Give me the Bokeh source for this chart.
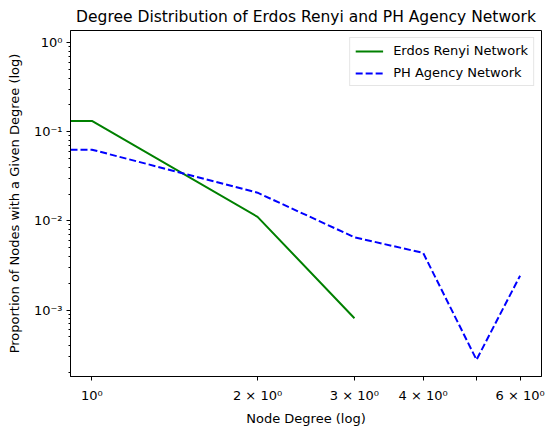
import math
from bokeh.plotting import figure
from bokeh.models import Range1d, FixedTicker, Legend, LegendItem
from bokeh.embed import file_html
from bokeh.resources import INLINE

# ---- data ----
degrees_er = [1, 2, 3]
prop_er = [0.132, 0.0111, 0.00081]
degrees_ph = [1, 2, 3, 4, 5, 6]
prop_ph = [0.0629, 0.0207, 0.00655, 0.00437, 0.000277, 0.00243]

series_names = ["Erdos Renyi Network", "PH Agency Network"]

x_tick_values = [1, 2, 3, 4, 5, 6]
x_tick_labels = ["10\u2070", "2 \u00d7 10\u2070", "3 \u00d7 10\u2070", "4 \u00d7 10\u2070", "", "6 \u00d7 10\u2070"]
y_tick_values = [0.001, 0.01, 0.1, 1.0]
y_tick_labels = ["10\u207b\u00b3", "10\u207b\u00b2", "10\u207b\u00b9", "10\u2070"]

title_text = "Degree Distribution of Erdos Renyi and PH Agency Network"
x_label = "Node Degree (log)"
y_label = "Proportion of Nodes with a Given Degree (log)"

FONT = "DejaVu Sans"

# ---- ranges (log with 5% margins on x) ----
lo = math.log10(min(degrees_ph))
hi = math.log10(max(degrees_ph))
m = 0.05 * (hi - lo)
x_start, x_end = 10 ** (lo - m), 10 ** (hi + m)
y_start, y_end = 10 ** -3.745, 10 ** 0.135

p = figure(width=546, height=428, x_axis_type="log", y_axis_type="log",
           x_range=Range1d(x_start, x_end), y_range=Range1d(y_start, y_end),
           output_backend="svg", toolbar_location=None,
           min_border_left=70, min_border_right=5, min_border_top=30,
           min_border_bottom=45)

p.grid.visible = False
p.outline_line_color = "black"
p.outline_line_width = 1
p.background_fill_color = "white"
p.border_fill_color = "white"

# title
p.title.text = title_text
p.title.text_font = FONT
p.title.text_font_size = "15.5px"
p.title.text_font_style = "normal"
p.title.text_color = "black"
p.title.align = "center"
p.title.standoff = 9

# axes
for ax in (p.xaxis[0], p.yaxis[0]):
    ax.axis_line_color = "black"
    ax.major_tick_line_color = "black"
    ax.minor_tick_line_color = "black"
    ax.major_tick_in = 0
    ax.major_tick_out = 4
    ax.minor_tick_in = 0
    ax.minor_tick_out = 2
    ax.major_label_text_font = FONT
    ax.major_label_text_font_size = "13px"
    ax.major_label_text_color = "black"
    ax.axis_label_text_font = FONT
    ax.axis_label_text_font_size = "13px"
    ax.axis_label_text_font_style = "normal"
    ax.axis_label_text_color = "black"

minor_y = [mm * 10 ** k for k in range(-4, 1) for mm in range(2, 10)
           if y_start <= mm * 10 ** k <= y_end]

p.xaxis.ticker = FixedTicker(ticks=x_tick_values, minor_ticks=[])
p.xaxis.major_label_overrides = dict(zip(x_tick_values, x_tick_labels))
p.yaxis.ticker = FixedTicker(ticks=y_tick_values, minor_ticks=minor_y)
p.yaxis.major_label_overrides = dict(zip(y_tick_values, y_tick_labels))

p.xaxis.axis_label = x_label
p.yaxis.axis_label = y_label
p.xaxis.major_label_standoff = 7
p.yaxis.major_label_standoff = 4
p.xaxis.axis_label_standoff = 5
p.yaxis.axis_label_standoff = 9

# lines: the leftmost flat piece runs from the plot edge to degree 1
xs_er = [x_start] + degrees_er
ys_er = [prop_er[0]] + prop_er
xs_ph = [x_start] + degrees_ph
ys_ph = [prop_ph[0]] + prop_ph

r_er = p.line(xs_er, ys_er, line_color="green", line_width=2)
r_ph = p.line(xs_ph, ys_ph, line_color="blue", line_width=2, line_dash="7 3")

legend = Legend(items=[LegendItem(label=series_names[0], renderers=[r_er]),
                       LegendItem(label=series_names[1], renderers=[r_ph])],
                location="top_right")
legend.label_text_font = FONT
legend.label_text_font_size = "13px"
legend.label_text_color = "black"
legend.glyph_width = 28
legend.glyph_height = 14
legend.label_height = 14
legend.label_standoff = 10
legend.spacing = 7
legend.padding = 5
legend.margin = 7
legend.border_line_color = "#cccccc"
legend.border_line_width = 1
legend.background_fill_color = "white"
legend.background_fill_alpha = 0.8
p.add_layout(legend)

open("out.html", "w").write(file_html(p, INLINE))
